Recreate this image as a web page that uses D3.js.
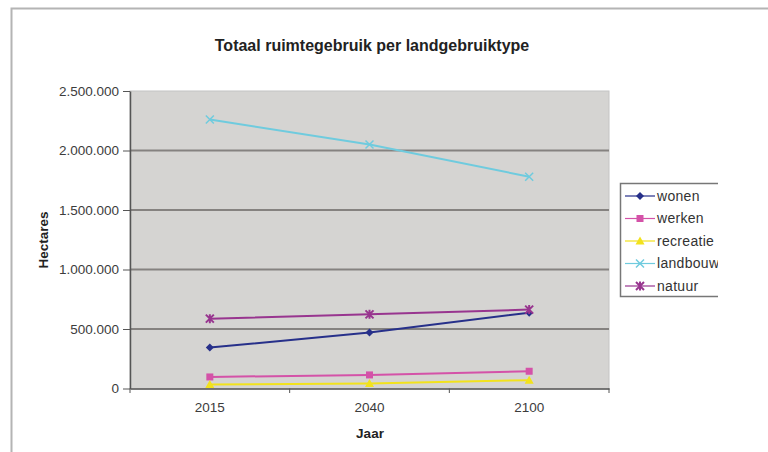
<!DOCTYPE html>
<html>
<head>
<meta charset="utf-8">
<script src="https://cdn.jsdelivr.net/npm/d3@7"></script>
<style>
  html, body { margin: 0; padding: 0; background: #fff; }
  svg { display: block; font-family: "Liberation Sans", Arial, sans-serif; }
</style>
</head>
<body>
<div class="chart"></div>
<script>
// data
var years = ["2015", "2040", "2100"];
var wonen = [344000, 470000, 637000];
var werken = [97000, 114000, 145000];
var recreatie = [34000, 42000, 70000];
var landbouw = [2260000, 2050000, 1780000];
var natuur = [587000, 623000, 663000];
var yTicks = [0, 500000, 1000000, 1500000, 2000000, 2500000];

var series = [
    { name: "wonen", values: wonen, color: "#27308a", marker: "diamond" },
    { name: "werken", values: werken, color: "#d452a8", marker: "square" },
    { name: "recreatie", values: recreatie, color: "#f2e21c", marker: "triangle" },
    { name: "landbouw", values: landbouw, color: "#6fcbde", marker: "x" },
    { name: "natuur", values: natuur, color: "#98358f", marker: "star" }
];

var W = 768, H = 452;
var plot = { left: 130, top: 91, right: 609, bottom: 389 };

var svg = d3.select(".chart").append("svg")
    .attr("width", W)
    .attr("height", H);

// outer chart frame (runs off the bottom / right of the picture)
svg.append("path")
    .attr("d", "M11.5," + H + "V8.5H" + W)
    .attr("fill", "none")
    .attr("stroke", "#b4b4b4")
    .attr("stroke-width", 2);

var x = d3.scaleBand().domain(years).range([plot.left, plot.right]);
var y = d3.scaleLinear().domain([0, 2500000]).range([plot.bottom - 0.5, plot.top]);

var fmt = function(v) {
    return d3.format(",")(v).replace(/,/g, ".");
};

// plot background
svg.append("rect")
    .attr("x", plot.left)
    .attr("y", plot.top)
    .attr("width", plot.right - plot.left)
    .attr("height", plot.bottom - plot.top)
    .attr("fill", "#d5d4d2")
    .attr("stroke", "#c4c4c4")
    .attr("stroke-width", 1);

// gridlines
svg.append("g").selectAll("line")
    .data(yTicks.filter(function(d) { return d > 0 && d < 2500000; }))
    .enter()
    .append("line")
    .attr("x1", plot.left)
    .attr("x2", plot.right)
    .attr("y1", function(d) { return y(d); })
    .attr("y2", function(d) { return y(d); })
    .attr("stroke", "#858280")
    .attr("stroke-width", 2);

// y axis
var yAxis = svg.append("g")
    .attr("transform", "translate(" + plot.left + ",0)")
    .call(d3.axisLeft(y).tickValues(yTicks).tickFormat(fmt).tickSize(7).tickSizeOuter(0));
yAxis.select(".domain").attr("stroke", "#555").attr("stroke-width", 1.5);
yAxis.selectAll(".tick line").attr("stroke", "#555");
yAxis.selectAll("text")
    .attr("x", -11)
    .style("font-size", "13.5px")
    .attr("fill", "#3c3c3c");

// x axis
var xAxis = svg.append("g")
    .attr("transform", "translate(0," + (plot.bottom - 0.5) + ")")
    .call(d3.axisBottom(x).tickSize(0).tickPadding(14));
xAxis.select(".domain").attr("stroke", "#555").attr("stroke-width", 1.5);
xAxis.selectAll("text")
    .style("font-size", "13.5px")
    .attr("fill", "#3c3c3c");

// category separator ticks
svg.append("g").selectAll("line")
    .data(years.concat(["end"]))
    .enter()
    .append("line")
    .attr("x1", function(d, i) { return plot.left + i * x.bandwidth(); })
    .attr("x2", function(d, i) { return plot.left + i * x.bandwidth(); })
    .attr("y1", plot.bottom - 0.5)
    .attr("y2", plot.bottom + 4)
    .attr("stroke", "#555");

// title + axis titles
svg.append("text")
    .attr("x", 372)
    .attr("y", 51)
    .attr("text-anchor", "middle")
    .style("font-size", "16px")
    .style("font-weight", "bold")
    .attr("fill", "#222")
    .text("Totaal ruimtegebruik per landgebruiktype");

svg.append("text")
    .attr("x", 370)
    .attr("y", 438)
    .attr("text-anchor", "middle")
    .style("font-size", "13.5px")
    .style("font-weight", "bold")
    .attr("fill", "#222")
    .text("Jaar");

svg.append("text")
    .attr("transform", "translate(48,240) rotate(-90)")
    .attr("text-anchor", "middle")
    .style("font-size", "13.5px")
    .style("font-weight", "bold")
    .attr("fill", "#222")
    .text("Hectares");

function drawMarker(g, type, color) {
    if (type === "diamond") {
        g.append("path").attr("d", "M0,-4L4,0L0,4L-4,0Z").attr("fill", color);
    } else if (type === "square") {
        g.append("rect").attr("x", -3.5).attr("y", -3.5).attr("width", 7).attr("height", 7).attr("fill", color);
    } else if (type === "triangle") {
        g.append("path").attr("d", "M0,-4.5L4.5,3.5L-4.5,3.5Z").attr("fill", color);
    } else if (type === "x") {
        g.append("path").attr("d", "M-4,-4L4,4M-4,4L4,-4").attr("stroke", color).attr("stroke-width", 1.5);
    } else {
        g.append("path").attr("d", "M-4,-4L4,4M-4,4L4,-4M0,-4.5V4.5").attr("stroke", color).attr("stroke-width", 2);
    }
}

var line = d3.line()
    .x(function(d, i) { return x(years[i]) + x.bandwidth() / 2; })
    .y(function(d) { return y(d); });

var lines = svg.append("g").selectAll("g")
    .data(series)
    .enter()
    .append("g");

lines.append("path")
    .attr("d", function(d) { return line(d.values); })
    .attr("fill", "none")
    .attr("stroke", function(d) { return d.color; })
    .attr("stroke-width", 2);

lines.each(function(s) {
    var g = d3.select(this);
    s.values.forEach(function(v, i) {
        var m = g.append("g")
            .attr("transform", "translate(" + (x(years[i]) + x.bandwidth() / 2) + "," + y(v) + ")");
        drawMarker(m, s.marker, s.color);
    });
});

// legend, clipped on the right like the reference
svg.append("clipPath").attr("id", "legendClip")
    .append("rect").attr("x", 600).attr("y", 170).attr("width", 118).attr("height", 140);

var legend = svg.append("g").attr("clip-path", "url(#legendClip)");
legend.append("rect")
    .attr("x", 620.5)
    .attr("y", 183.5)
    .attr("width", 140)
    .attr("height", 113)
    .attr("fill", "#fff")
    .attr("stroke", "#777")
    .attr("stroke-width", 1.5);

var items = legend.selectAll(".item")
    .data(series)
    .enter()
    .append("g")
    .attr("class", "item")
    .attr("transform", function(d, i) { return "translate(0," + (196 + i * 22.5) + ")"; });

items.append("line")
    .attr("x1", 625).attr("x2", 655)
    .attr("stroke", function(d) { return d.color; })
    .attr("stroke-width", 1.2);

items.each(function(s) {
    var m = d3.select(this).append("g").attr("transform", "translate(640,0)");
    drawMarker(m, s.marker, s.color);
});

items.append("text")
    .attr("x", 657)
    .attr("dy", "0.35em")
    .style("font-size", "14px")
    .style("letter-spacing", "0.3px")
    .attr("fill", "#333")
    .text(function(d) { return d.name; });
</script>
</body>
</html>
